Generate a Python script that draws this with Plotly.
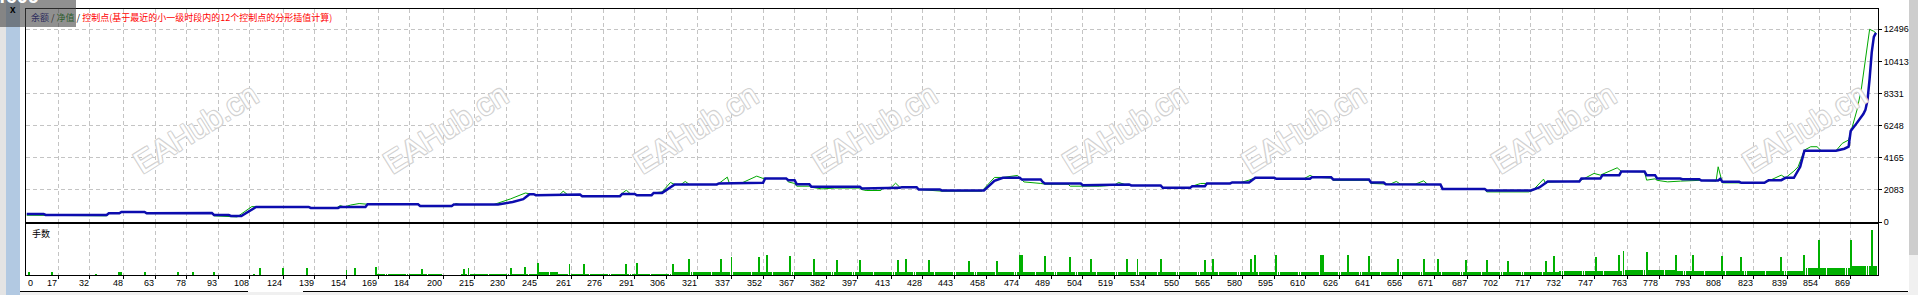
import plotly.graph_objects as go

# ---------------- data ----------------
x_tick_labels = [0, 17, 32, 48, 63, 78, 93, 108, 124, 139, 154, 169, 184, 200, 215, 230,
                 245, 261, 276, 291, 306, 321, 337, 352, 367, 382, 397, 413, 428, 443, 458,
                 474, 489, 504, 519, 534, 550, 565, 580, 595, 610, 626, 641, 656, 671, 687,
                 702, 717, 732, 747, 763, 778, 793, 808, 823, 839, 854, 869]
y_tick_labels = [0, 2083, 4165, 6248, 8331, 10413, 12496]

# balance: flat stretches (first trade, last trade, balance)
bal_start = [2, 11, 41, 47, 59, 72, 91, 99, 111, 137, 151, 164, 189, 205, 233, 238, 241, 244,
             256, 266, 285, 292, 300, 310, 331, 342, 353, 364, 368, 375, 399, 409, 418, 426,
             437, 462, 466, 475, 485, 486, 504, 520, 527, 542, 556, 563, 575, 586, 596, 613,
             623, 641, 648, 665, 675, 696, 721, 725, 741, 751, 760, 772, 777, 789, 798, 807,
             808, 817, 830, 838, 845, 847, 864, 866, 868, 869, 871, 873, 875, 876, 877, 878,
             879, 880, 881]
bal_end = [10, 40, 46, 58, 71, 90, 98, 104, 136, 150, 163, 188, 204, 226, 233, 238, 243, 255,
           265, 284, 291, 299, 304, 330, 341, 352, 363, 367, 374, 398, 408, 417, 425, 436,
           457, 462, 474, 484, 485, 503, 519, 526, 541, 555, 562, 574, 583, 595, 612, 622,
           640, 647, 664, 674, 695, 717, 721, 740, 750, 759, 771, 776, 788, 797, 806, 807,
           816, 828, 836, 842, 845, 862, 864, 866, 868, 869, 871, 873, 875, 876, 877, 878,
           879, 880, 881]
bal_value = [520, 455, 565, 650, 560, 586, 455, 390, 976, 911, 976, 1152, 1041, 1132, 1300,
             1477, 1803, 1737, 1782, 1672, 1822, 1737, 1887, 2434, 2499, 2538, 2824, 2714,
             2453, 2278, 2174, 2213, 2258, 2108, 2043, 2668, 2864, 2759, 2583, 2499, 2388,
             2434, 2368, 2213, 2323, 2499, 2564, 2864, 2799, 2909, 2759, 2564, 2453, 2434,
             2148, 2043, 2238, 2620, 2824, 3039, 3280, 3039, 2824, 2779, 2694, 2799, 2603,
             2538, 2714, 2864, 3580, 4621, 4690, 4750, 4881, 5900, 6250, 6600, 7000, 7270,
             7900, 9300, 11000, 12000, 12260]

# equity (trade, value)
eq_trade = [2, 10, 11, 40, 41, 46, 47, 58, 59, 71, 72, 90, 91, 98, 102, 109, 111, 136, 137,
            149, 151, 153, 156, 160, 163, 164, 188, 189, 204, 206, 208, 224, 232, 239, 241,
            243, 244, 255, 257, 259, 265, 266, 283, 287, 289, 291, 292, 299, 300, 304, 308,
            310, 313, 315, 317, 330, 331, 335, 336, 341, 342, 349, 351, 352, 363, 364, 367,
            368, 374, 375, 380, 386, 398, 399, 401, 408, 409, 413, 415, 417, 425, 426, 437,
            456, 462, 466, 473, 474, 476, 484, 486, 497, 498, 512, 519, 521, 524, 526, 527,
            541, 542, 555, 556, 560, 574, 575, 579, 583, 586, 595, 596, 609, 612, 614, 622,
            623, 640, 641, 650, 653, 655, 662, 666, 668, 674, 675, 683, 695, 696, 716, 718,
            723, 724, 725, 740, 747, 750, 758, 760, 771, 772, 776, 777, 782, 788, 797, 805,
            806, 808, 816, 828, 836, 838, 842, 844, 847, 850, 853, 855, 862, 865, 868, 870,
            872, 874, 876, 878, 880, 881]
eq_value = [440, 440, 400, 400, 550, 550, 640, 630, 545, 545, 570, 570, 400, 330, 330, 1000,
            990, 960, 890, 890, 1067, 976, 1100, 1197, 1197, 1152, 1140, 1000, 1000, 1197,
            1132, 1132, 1500, 1880, 1830, 1803, 1737, 1737, 1998, 1782, 1782, 1650, 1650,
            2063, 1822, 1822, 1737, 1737, 1887, 1950, 2564, 2434, 2434, 2629, 2434, 2434,
            2499, 2909, 2499, 2499, 2538, 2974, 2900, 2824, 2824, 2600, 2500, 2323, 2323,
            2250, 2148, 2200, 2200, 2100, 2043, 2043, 2213, 2250, 2518, 2258, 2258, 2108,
            2000, 2000, 2889, 2889, 3020, 2864, 2600, 2500, 2453, 2453, 2323, 2323, 2388,
            2564, 2434, 2434, 2368, 2368, 2200, 2200, 2323, 2499, 2499, 2564, 2564, 2714,
            2864, 2864, 2799, 2799, 3020, 2909, 2850, 2700, 2700, 2500, 2453, 2629, 2453,
            2453, 2668, 2434, 2434, 2108, 2108, 2148, 1952, 1952, 2063, 2779, 2499, 2583,
            2650, 3150, 3039, 3514, 3280, 3250, 2714, 2800, 2700, 2603, 2650, 2700, 2650,
            3580, 2538, 2538, 2538, 3039, 2864, 3300, 3580, 4665, 4881, 4881, 4621, 4621,
            5100, 5316, 6292, 7270, 8570, 10439, 12496, 12366, 12260]

# lots: base level per stretch of trades, then the taller single bars
n_trades = 881
lot_base_start = [168, 209, 245, 255, 309, 731, 762, 786, 847, 870]
lot_base_end = [199, 244, 254, 308, 730, 761, 785, 846, 869, 881]
lot_base_value = [0.01, 0.01, 0.03, 0.01, 0.03, 0.04, 0.05, 0.04, 0.07, 0.09]
spike_trade = [3, 14, 35, 46, 47, 58, 74, 81, 91, 110, 113, 124, 135, 154, 158, 168, 190,
               210, 212, 232, 239, 245, 260, 267, 287, 292, 309, 317, 332, 337, 350, 354,
               365, 376, 387, 398, 416, 420, 431, 450, 463, 474, 475, 486, 498, 508, 525,
               530, 541, 562, 566, 584, 586, 596, 617, 618, 630, 640, 654, 666, 673, 686,
               696, 706, 724, 728, 748, 759, 761, 772, 786, 794, 808, 817, 836, 847, 854,
               869, 879]
spike_lot = [0.03, 0.03, 0.01, 0.03, 0.03, 0.03, 0.03, 0.03, 0.03, 0.01, 0.07, 0.07, 0.07,
             0.05, 0.07, 0.08, 0.06, 0.06, 0.07, 0.07, 0.08, 0.12, 0.11, 0.11, 0.11, 0.12,
             0.11, 0.16, 0.16, 0.18, 0.18, 0.20, 0.19, 0.16, 0.15, 0.15, 0.15, 0.16, 0.15,
             0.14, 0.14, 0.20, 0.20, 0.19, 0.18, 0.16, 0.16, 0.16, 0.16, 0.15, 0.16, 0.16,
             0.20, 0.20, 0.20, 0.20, 0.20, 0.19, 0.16, 0.16, 0.16, 0.15, 0.15, 0.14, 0.14,
             0.19, 0.18, 0.20, 0.24, 0.23, 0.20, 0.20, 0.19, 0.18, 0.18, 0.20, 0.35, 0.35,
             0.45]

legend_balance = "余额"
legend_equity = "净值"
legend_points = "控制点(基于最近的小一级时段内的12个控制点的分形插值计算)"
lots_title = "手数"
watermark_text = "EAHub.cn"

# ---------------- build series ----------------
bal_x, bal_y = [], []
for s, e, v in zip(bal_start, bal_end, bal_value):
    bal_x.append(s); bal_y.append(v)
    if e != s:
        bal_x.append(e); bal_y.append(v)

trades = list(range(1, n_trades + 1))
lots = [0.0] * n_trades
for s, e, v in zip(lot_base_start, lot_base_end, lot_base_value):
    for t in range(s, e + 1):
        lots[t - 1] = v
for t, v in zip(spike_trade, spike_lot):
    lots[t - 1] = v

# ---------------- layout geometry ----------------
W, H = 1918, 295
ML, MR, MT, MB = 26, 40, 9, 20
PW, PH = W - ML - MR, H - MT - MB


def fx(p):
    return (p - ML) / PW


def fy(p):
    return (H - MB - p) / PH


XMIN, XMAX = 1.65, 881.98
MAIN_BOTTOM, LOWER_TOP = 222, 224
y_top = y_tick_labels[-1] * (MAIN_BOTTOM - MT) / (MAIN_BOTTOM - 29.3)

FONT = "Liberation Sans"
CJK = "Noto Sans CJK SC"
GRID = dict(showgrid=True, gridcolor="#c4c4c4", gridwidth=1, griddash="4px,3px")
BORDER = dict(showline=True, mirror=True, linecolor="black", linewidth=1, zeroline=False)

fig = go.Figure()
fig.add_trace(go.Scatter(x=eq_trade, y=eq_value, mode="lines",
                         line=dict(color="#00a800", width=1), xaxis="x", yaxis="y",
                         hoverinfo="skip"))
fig.add_trace(go.Scatter(x=bal_x, y=bal_y, mode="lines",
                         line=dict(color="#0c0cae", width=2.5), xaxis="x", yaxis="y",
                         hoverinfo="skip"))
fig.add_trace(go.Bar(x=trades, y=lots, width=0.45, marker=dict(color="#00b000", line=dict(width=0)),
                     xaxis="x2", yaxis="y2", hoverinfo="skip"))

annotations = []
# x tick labels: right-aligned to their grid line, first one clamped to the left edge
for lab in x_tick_labels:
    if lab < XMIN:
        annotations.append(dict(x=XMIN, xref="x2", xanchor="left", y=fy(282.5), yref="paper",
                                yanchor="middle", text=str(lab), showarrow=False,
                                font=dict(family=FONT, size=9, color="black")))
    else:
        annotations.append(dict(x=lab, xref="x2", xanchor="right", xshift=1, y=fy(282.5),
                                yref="paper", yanchor="middle", text=str(lab), showarrow=False,
                                font=dict(family=FONT, size=9, color="black")))

# watermarks (outlined text)
outline = "#d2d2d2"
shadow = f"1px 1px 0 {outline}, -1px -1px 0 {outline}, 1px -1px 0 {outline}, -1px 1px 0 {outline}"
for k in range(8):
    cx = 124.5 + 250.2 * k
    annotations.append(dict(x=fx(cx), y=fy(128.5), xref="paper", yref="paper",
                            text=watermark_text, showarrow=False, textangle=-32,
                            font=dict(family=FONT, size=31, color="white", shadow=shadow)))

# legend text
annotations.append(dict(
    x=fx(29), y=fy(17), xref="paper", yref="paper", xanchor="left", yanchor="middle",
    showarrow=False, font=dict(family=CJK, size=9, color="black"),
    text=(f'<span style="color:#000080">{legend_balance}</span> / '
          f'<span style="color:#008000">{legend_equity}</span> / '
          f'<span style="color:#ff0000">{legend_points}</span>')))
annotations.append(dict(x=fx(30), y=fy(233), xref="paper", yref="paper", xanchor="left",
                        yanchor="middle", showarrow=False, text=lots_title,
                        font=dict(family=CJK, size=9, color="black")))
# grey overlay box top-left
annotations.append(dict(x=fx(0), y=fy(0), xref="paper", yref="paper", xanchor="left",
                        yanchor="top", showarrow=False, text=" ", width=76, height=27,
                        borderpad=0, borderwidth=0, bgcolor="rgba(70,70,70,0.6)",
                        font=dict(size=8)))
annotations.append(dict(x=fx(-3), y=fy(-4), xref="paper", yref="paper", xanchor="left",
                        yanchor="middle", showarrow=False, text="<b>f609</b>",
                        font=dict(family=FONT, size=20, color="white")))
annotations.append(dict(x=fx(12.5), y=fy(9), xref="paper", yref="paper", xanchor="center",
                        yanchor="middle", showarrow=False, text="<b>x</b>",
                        font=dict(family=FONT, size=10, color="black")))

shapes = [
    # left window strip
    dict(type="rect", xref="paper", yref="paper", x0=fx(0), x1=fx(6), y0=fy(295), y1=fy(0),
         fillcolor="#e4e4e4", line=dict(width=0), layer="below"),
    dict(type="rect", xref="paper", yref="paper", x0=fx(6), x1=fx(20), y0=fy(295), y1=fy(0),
         fillcolor="#b2c9e2", line=dict(width=0), layer="below"),
    # right scrollbar
    dict(type="rect", xref="paper", yref="paper", x0=fx(1909), x1=fx(1918), y0=fy(255),
         y1=fy(0), fillcolor="#cdcdcd", line=dict(width=0), layer="below"),
    dict(type="rect", xref="paper", yref="paper", x0=fx(1909), x1=fx(1918), y0=fy(295),
         y1=fy(255), fillcolor="#f0f0f0", line=dict(width=0), layer="below"),
    # bottom strip
    dict(type="rect", xref="paper", yref="paper", x0=fx(20), x1=fx(1909), y0=fy(295),
         y1=fy(292), fillcolor="#f0f0f0", line=dict(width=0), layer="below"),
    dict(type="line", xref="paper", yref="paper", x0=fx(20), x1=fx(248), y0=fy(291.5),
         y1=fy(291.5), line=dict(color="black", width=1)),
    dict(type="line", xref="paper", yref="paper", x0=fx(303), x1=fx(1908), y0=fy(291.5),
         y1=fy(291.5), line=dict(color="black", width=1)),
]

fig.update_layout(
    width=W, height=H, margin=dict(l=ML, r=MR, t=MT, b=MB, pad=0),
    paper_bgcolor="white", plot_bgcolor="white", showlegend=False, bargap=0,
    xaxis=dict(domain=[0, 1], range=[XMIN, XMAX], anchor="y", tickmode="array",
               tickvals=x_tick_labels, showticklabels=False, ticks="", **GRID, **BORDER),
    xaxis2=dict(domain=[0, 1], range=[XMIN, XMAX], anchor="y2", tickmode="array",
                tickvals=x_tick_labels, showticklabels=False, ticks="outside", ticklen=3,
                tickcolor="black", tickwidth=1, **GRID, **BORDER),
    yaxis=dict(domain=[fy(MAIN_BOTTOM), 1], range=[0, y_top], anchor="x", side="right",
               tickmode="array", tickvals=y_tick_labels,
               ticktext=[str(v) for v in y_tick_labels], ticks="outside", ticklen=3,
               tickcolor="black", tickfont=dict(family=FONT, size=9, color="black"),
               **GRID, **BORDER),
    yaxis2=dict(domain=[0, fy(LOWER_TOP)], range=[0, 0.51], anchor="x2", showgrid=False,
                showticklabels=False, ticks="", **BORDER),
    annotations=annotations, shapes=shapes,
)

fig.write_html("out.html")
